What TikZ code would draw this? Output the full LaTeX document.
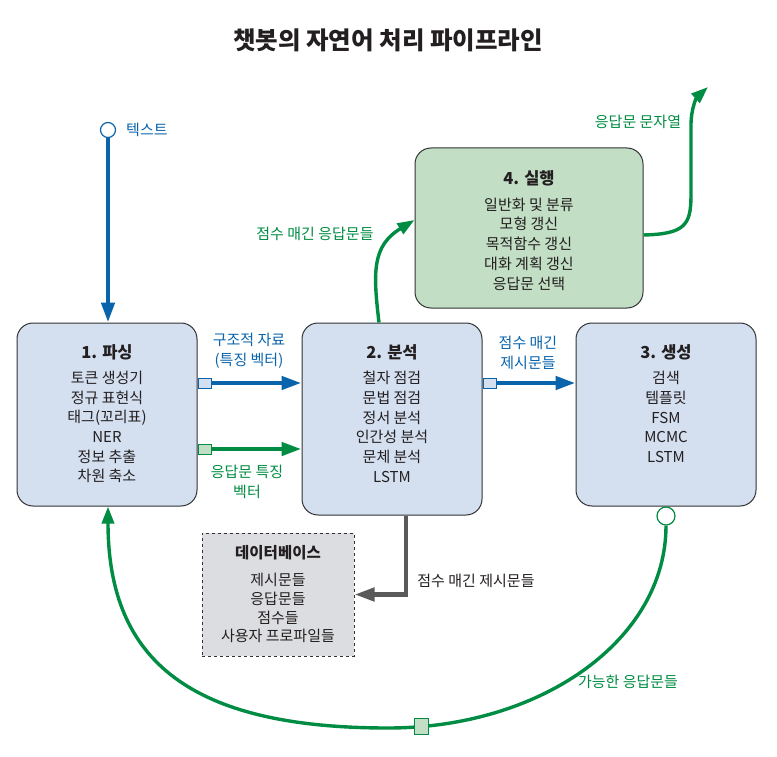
\documentclass[tikz,border=0pt]{standalone}
\usepackage{fontspec}
\setmainfont{Noto Sans CJK KR}
\usetikzlibrary{arrows.meta}
\definecolor{myblue}{RGB}{10,100,172}
\definecolor{mygreen}{RGB}{0,140,66}
\definecolor{boxline}{RGB}{50,50,52}
\definecolor{bluefill}{RGB}{212,223,240}
\definecolor{greenfill}{RGB}{194,222,196}
\definecolor{grayfill}{RGB}{220,221,224}
\definecolor{darkgray}{RGB}{90,90,90}
\definecolor{textc}{RGB}{35,31,32}
\begin{document}
\begin{tikzpicture}[x=1pt,y=-1pt,
  box/.style={draw=boxline, line width=1pt, rounded corners=16pt, inner sep=0pt},
  ttl/.style={font=\bfseries\fontsize{16.5}{19}\selectfont, text=textc, inner sep=0pt},
  body/.style={align=center, font=\fontsize{15}{19.7}\selectfont, text=textc, inner sep=0pt},
  lbl/.style={align=center, font=\fontsize{15}{20.5}\selectfont, inner sep=0pt},
  tip/.style={-{Triangle[length=20pt,width=13pt]}},
  bluearrow/.style={draw=myblue, line width=4.5pt, tip},
  greenarrow/.style={draw=mygreen, line width=4.5pt, tip},
  greencurve/.style={draw=mygreen, line width=3.4pt, -{Triangle[length=17pt,width=12pt]}},
  grayarrow/.style={draw=darkgray, line width=4.5pt, tip},
  bsq/.style={draw=myblue, fill=bluefill, line width=1pt, minimum width=13pt, minimum height=10pt, inner sep=0pt},
  gsq/.style={draw=mygreen, fill=greenfill, line width=1pt, minimum width=13pt, minimum height=10pt, inner sep=0pt}
]
\useasboundingbox (0,0) rectangle (777,757);

% title
\node[font=\bfseries\fontsize{24.5}{28}\selectfont, text=textc] (title) at (388,40) {챗봇의 자연어 처리 파이프라인};

% boxes
\node[box, fill=bluefill, minimum width=180pt, minimum height=183pt] (b1) at (107,414.5) {};
\node[box, fill=bluefill, minimum width=180pt, minimum height=192pt] (b2) at (392,419) {};
\node[box, fill=bluefill, minimum width=180pt, minimum height=183pt] (b3) at (666,414.5) {};
\node[box, fill=greenfill, minimum width=228pt, minimum height=160pt] (b4) at (529,228) {};
\node[draw=boxline, dashed, line width=1pt, fill=grayfill, minimum width=152pt, minimum height=123pt, inner sep=0pt] (db) at (278,594.5) {};

% box texts
\node[ttl] (t1) at (107,352) {1. 파싱};
\node[body] (x1) at (107,427) {토큰 생성기\\정규 표현식\\태그(꼬리표)\\NER\\정보 추출\\차원 축소};
\node[ttl] (t2) at (392,352) {2. 분석};
\node[body] (x2) at (392,427) {철자 점검\\문법 점검\\정서 분석\\인간성 분석\\문체 분석\\LSTM};
\node[ttl] (t3) at (666,352) {3. 생성};
\node[body] (x3) at (666,417) {검색\\템플릿\\FSM\\MCMC\\LSTM};
\node[ttl] (t4) at (529,178) {4. 실행};
\node[body] (x4) at (529,244) {일반화 및 분류\\모형 갱신\\목적함수 갱신\\대화 계획 갱신\\응답문 선택};
\node[ttl, font=\bfseries\fontsize{15.5}{18}\selectfont] (tdb) at (278,553) {데이터베이스};
\node[body, font=\fontsize{15}{18.8}\selectfont] (xdb) at (278,608) {제시문들\\응답문들\\점수들\\사용자 프로파일들};

% text input
\node[circle, draw=myblue, fill=white, line width=1.2pt, minimum size=15pt, inner sep=0pt] (in) at (108,130) {};
\node[lbl, text=myblue, anchor=west] (inl) at (126,130) {텍스트};
\draw[bluearrow] (in.south) -- (in.south |- b1.north);

% 1 -> 2 blue
\node[bsq] (s1) at (204.5,383) {};
\draw[bluearrow] (s1.east) -- (s1.east -| b2.west);
\node[lbl, text=myblue] (l12) at (249,351) {구조적 자료\\(특징 벡터)};

% 1 -> 2 green
\node[gsq] (s2) at (204.5,449) {};
\draw[greenarrow] (s2.east) -- (s2.east -| b2.west);
\node[lbl, text=mygreen] (l12g) at (247,482) {응답문 특징\\벡터};

% 2 -> 3 blue
\node[bsq] (s3) at (489.5,383) {};
\draw[bluearrow] (s3.east) -- (s3.east -| b3.west);
\node[lbl, text=myblue] (l23) at (528,353) {점수 매긴\\제시문들};

% 2 -> db gray
\draw[grayarrow] ([xshift=14pt]b2.south) |- (db.east);
\node[lbl, text=textc] (l2db) at (476,581) {점수 매긴 제시문들};

% 2 -> 4 green curve
\draw[greencurve] ([xshift=-13pt]b2.north) .. controls (373,272) and (372,246) .. ([yshift=8pt]b4.west);
\node[lbl, text=mygreen] (l24) at (315,234) {점수 매긴 응답문들};

% 4 -> out green curve
\coordinate (outend) at (708,87);
\draw[greencurve] ([yshift=-7pt]b4.east) .. controls (685,234) and (691,225) .. (691,195) -- (691,125) .. controls (691,108) and (697,97) .. (outend);
\node[lbl, text=mygreen] (lout) at (638,122) {응답문 문자열};

% 3 -> 1 big green arc
\node[circle, draw=mygreen, fill=white, line width=1.2pt, minimum size=18pt, inner sep=0pt] (c3) at (666,516) {};
\coordinate (bot) at (388,728);
\draw[greencurve] (c3.south) .. controls (666,640) and (541,728) .. (bot) .. controls (192,728) and (108,662) .. (b1.south -| 108,0);
\node[gsq, minimum width=14pt, minimum height=16pt] (s4) at (421,726) {};
\node[lbl, text=mygreen] (l31) at (628,682) {가능한 응답문들};
\end{tikzpicture}
\end{document}
